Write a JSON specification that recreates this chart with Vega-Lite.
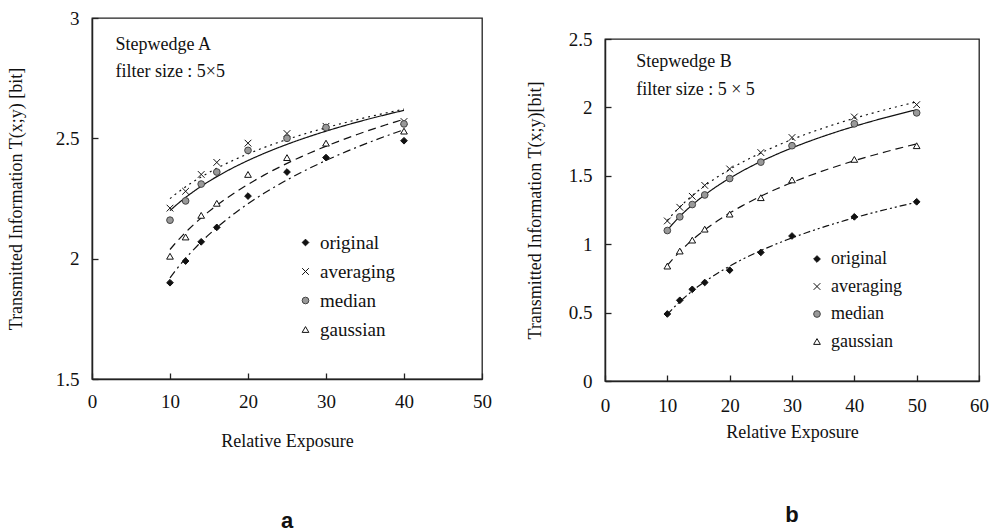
{
  "$schema": "https://vega.github.io/schema/vega-lite/v6.json",
  "background": "white",
  "padding": {"left": 6, "top": 8, "right": 2, "bottom": 0},
  "spacing": 32,
  "resolve": {
    "scale": {"shape": "independent", "fill": "independent", "stroke": "independent", "strokeDash": "independent"},
    "legend": {"shape": "independent", "fill": "independent", "stroke": "independent", "strokeDash": "independent"}
  },
  "config": {
    "font": "Liberation Serif",
    "view": {"stroke": "#222", "strokeWidth": 1.3},
    "axis": {
      "grid": false, "domainColor": "#222", "domainWidth": 1.5, "tickColor": "#222", "tickSize": -6, "tickWidth": 1.3,
      "labelFont": "Liberation Serif", "labelFontSize": 19, "labelColor": "#111", "labelPadding": 19, "labelFlush": false,
      "titleFont": "Liberation Serif", "titleFontSize": 18, "titleFontWeight": "normal", "titleColor": "#111"
    },
    "legend": {
      "labelFont": "Liberation Serif", "labelFontSize": 19, "labelColor": "#111", "symbolSize": 45, "symbolStrokeWidth": 1, "rowPadding": 9, "labelOffset": 5
    },
    "title": {"font": "Liberation Sans", "fontSize": 22, "fontWeight": "bold", "color": "#111", "orient": "bottom", "anchor": "middle"}
  },
  "datasets": {
    "A": [
      {"series": "original", "x": 10, "v": 1.90}, {"series": "original", "x": 12, "v": 1.99}, {"series": "original", "x": 14, "v": 2.07}, {"series": "original", "x": 16, "v": 2.13}, {"series": "original", "x": 20, "v": 2.26}, {"series": "original", "x": 25, "v": 2.36}, {"series": "original", "x": 30, "v": 2.42}, {"series": "original", "x": 40, "v": 2.49},
      {"series": "averaging", "x": 10, "v": 2.21}, {"series": "averaging", "x": 12, "v": 2.28}, {"series": "averaging", "x": 14, "v": 2.35}, {"series": "averaging", "x": 16, "v": 2.40}, {"series": "averaging", "x": 20, "v": 2.48}, {"series": "averaging", "x": 25, "v": 2.52}, {"series": "averaging", "x": 30, "v": 2.55}, {"series": "averaging", "x": 40, "v": 2.57},
      {"series": "median", "x": 10, "v": 2.16}, {"series": "median", "x": 12, "v": 2.24}, {"series": "median", "x": 14, "v": 2.31}, {"series": "median", "x": 16, "v": 2.36}, {"series": "median", "x": 20, "v": 2.45}, {"series": "median", "x": 25, "v": 2.50}, {"series": "median", "x": 30, "v": 2.545}, {"series": "median", "x": 40, "v": 2.56},
      {"series": "gaussian", "x": 10, "v": 2.01}, {"series": "gaussian", "x": 12, "v": 2.09}, {"series": "gaussian", "x": 14, "v": 2.18}, {"series": "gaussian", "x": 16, "v": 2.23}, {"series": "gaussian", "x": 20, "v": 2.35}, {"series": "gaussian", "x": 25, "v": 2.42}, {"series": "gaussian", "x": 30, "v": 2.48}, {"series": "gaussian", "x": 40, "v": 2.53}
    ],
    "B": [
      {"series": "original", "x": 10, "v": 0.49}, {"series": "original", "x": 12, "v": 0.59}, {"series": "original", "x": 14, "v": 0.67}, {"series": "original", "x": 16, "v": 0.72}, {"series": "original", "x": 20, "v": 0.81}, {"series": "original", "x": 25, "v": 0.94}, {"series": "original", "x": 30, "v": 1.06}, {"series": "original", "x": 40, "v": 1.20}, {"series": "original", "x": 50, "v": 1.31},
      {"series": "averaging", "x": 10, "v": 1.17}, {"series": "averaging", "x": 12, "v": 1.27}, {"series": "averaging", "x": 14, "v": 1.35}, {"series": "averaging", "x": 16, "v": 1.43}, {"series": "averaging", "x": 20, "v": 1.55}, {"series": "averaging", "x": 25, "v": 1.67}, {"series": "averaging", "x": 30, "v": 1.78}, {"series": "averaging", "x": 40, "v": 1.93}, {"series": "averaging", "x": 50, "v": 2.02},
      {"series": "median", "x": 10, "v": 1.10}, {"series": "median", "x": 12, "v": 1.20}, {"series": "median", "x": 14, "v": 1.29}, {"series": "median", "x": 16, "v": 1.36}, {"series": "median", "x": 20, "v": 1.48}, {"series": "median", "x": 25, "v": 1.60}, {"series": "median", "x": 30, "v": 1.72}, {"series": "median", "x": 40, "v": 1.88}, {"series": "median", "x": 50, "v": 1.96},
      {"series": "gaussian", "x": 10, "v": 0.84}, {"series": "gaussian", "x": 12, "v": 0.95}, {"series": "gaussian", "x": 14, "v": 1.03}, {"series": "gaussian", "x": 16, "v": 1.11}, {"series": "gaussian", "x": 20, "v": 1.22}, {"series": "gaussian", "x": 25, "v": 1.34}, {"series": "gaussian", "x": 30, "v": 1.47}, {"series": "gaussian", "x": 40, "v": 1.62}, {"series": "gaussian", "x": 50, "v": 1.72}
    ],
    "notesA": [{"x": 3, "v": 2.888, "t": "Stepwedge A"}, {"x": 3, "v": 2.775, "t": "filter size : 5×5"}],
    "notesB": [{"x": 5, "v": 2.33, "t": "Stepwedge B"}, {"x": 5, "v": 2.13, "t": "filter size : 5 × 5"}],
    "blank": [{"t": ""}]
  },
  "hconcat": [
    {
      "width": 390, "height": 361,
      "title": {"text": "a", "offset": 61},
      "layer": [
        {
          "data": {"name": "A"},
          "transform": [{"regression": "v", "on": "x", "groupby": ["series"], "method": "log", "extent": [10, 40]}],
          "mark": {"type": "line", "color": "#111", "strokeWidth": 1.2},
          "encoding": {
            "x": {"field": "x", "type": "quantitative", "scale": {"domain": [0, 50], "nice": false}, "axis": {"values": [0, 10, 20, 30, 40, 50], "title": "Relative Exposure", "titlePadding": 21}},
            "y": {"field": "v", "type": "quantitative", "scale": {"domain": [1.5, 3], "nice": false, "zero": false}, "axis": {"values": [1.5, 2, 2.5, 3], "format": "~f", "title": "Transmitted Information T(x;y) [bit]", "titlePadding": 30}},
            "strokeDash": {"field": "series", "type": "nominal", "scale": {"domain": ["averaging", "gaussian", "median", "original"], "range": [[2, 4], [8, 5], [1, 0], [8, 4, 2, 4]]}, "legend": null}
          }
        },
        {
          "data": {"name": "A"},
          "mark": {"type": "point", "filled": true, "opacity": 1, "strokeWidth": 1, "size": 45},
          "encoding": {
            "x": {"field": "x", "type": "quantitative", "scale": {"domain": [0, 50], "nice": false}},
            "y": {"field": "v", "type": "quantitative", "scale": {"domain": [1.5, 3], "nice": false, "zero": false}},
            "shape": {"field": "series", "type": "nominal", "scale": {"domain": ["original", "averaging", "median", "gaussian"], "range": ["diamond", "M-1,-1L1,1M1,-1L-1,1", "circle", "triangle-up"]}, "legend": {"title": null, "orient": "none", "legendX": 204, "legendY": 215}},
            "fill": {"field": "series", "type": "nominal", "scale": {"domain": ["original", "averaging", "median", "gaussian"], "range": ["#111", "transparent", "#999", "white"]}, "legend": {"title": null, "orient": "none", "legendX": 204, "legendY": 215}},
            "stroke": {"field": "series", "type": "nominal", "scale": {"domain": ["original", "averaging", "median", "gaussian"], "range": ["#111", "#111", "#444", "#111"]}, "legend": {"title": null, "orient": "none", "legendX": 204, "legendY": 215}}
          }
        },
        {
          "data": {"name": "notesA"},
          "mark": {"type": "text", "align": "left", "baseline": "middle", "fontSize": 18, "font": "Liberation Serif", "color": "#111"},
          "encoding": {
            "x": {"field": "x", "type": "quantitative", "scale": {"domain": [0, 50], "nice": false}},
            "y": {"field": "v", "type": "quantitative", "scale": {"domain": [1.5, 3], "nice": false, "zero": false}},
            "text": {"field": "t"}
          }
        }
      ]
    },
    {
      "spacing": 5,
      "vconcat": [
        {
          "width": 1, "height": 1,
          "view": {"stroke": null},
          "data": {"name": "blank"},
          "mark": {"type": "text"},
          "encoding": {"text": {"field": "t"}}
        },
        {
          "width": 374, "height": 342,
          "title": {"text": "b", "offset": 64},
          "layer": [
            {
              "data": {"name": "B"},
              "transform": [{"regression": "v", "on": "x", "groupby": ["series"], "method": "log", "extent": [10, 50]}],
              "mark": {"type": "line", "color": "#111", "strokeWidth": 1.2},
              "encoding": {
                "x": {"field": "x", "type": "quantitative", "scale": {"domain": [0, 60], "nice": false}, "axis": {"values": [0, 10, 20, 30, 40, 50, 60], "title": "Relative Exposure", "titlePadding": 8, "labelPadding": 21}},
                "y": {"field": "v", "type": "quantitative", "scale": {"domain": [0, 2.5], "nice": false}, "axis": {"values": [0, 0.5, 1, 1.5, 2, 2.5], "format": "~f", "title": "Transmitted Information T(x;y)[bit]", "titlePadding": 24}},
                "strokeDash": {"field": "series", "type": "nominal", "scale": {"domain": ["averaging", "gaussian", "median", "original"], "range": [[2, 4], [8, 5], [1, 0], [7, 3, 2, 3, 2, 3]]}, "legend": null}
              }
            },
            {
              "data": {"name": "B"},
              "mark": {"type": "point", "filled": true, "opacity": 1, "strokeWidth": 1, "size": 45},
              "encoding": {
                "x": {"field": "x", "type": "quantitative", "scale": {"domain": [0, 60], "nice": false}},
                "y": {"field": "v", "type": "quantitative", "scale": {"domain": [0, 2.5], "nice": false}},
                "shape": {"field": "series", "type": "nominal", "scale": {"domain": ["original", "averaging", "median", "gaussian"], "range": ["diamond", "M-1,-1L1,1M1,-1L-1,1", "circle", "triangle-up"]}, "legend": {"title": null, "orient": "none", "legendX": 203, "legendY": 232, "labelFontSize": 18, "rowPadding": 9.5}},
                "fill": {"field": "series", "type": "nominal", "scale": {"domain": ["original", "averaging", "median", "gaussian"], "range": ["#111", "transparent", "#999", "white"]}, "legend": {"title": null, "orient": "none", "legendX": 203, "legendY": 232, "labelFontSize": 18, "rowPadding": 9.5}},
                "stroke": {"field": "series", "type": "nominal", "scale": {"domain": ["original", "averaging", "median", "gaussian"], "range": ["#111", "#111", "#444", "#111"]}, "legend": {"title": null, "orient": "none", "legendX": 203, "legendY": 232, "labelFontSize": 18, "rowPadding": 9.5}}
              }
            },
            {
              "data": {"name": "notesB"},
              "mark": {"type": "text", "align": "left", "baseline": "middle", "fontSize": 18, "font": "Liberation Serif", "color": "#111"},
              "encoding": {
                "x": {"field": "x", "type": "quantitative", "scale": {"domain": [0, 60], "nice": false}},
                "y": {"field": "v", "type": "quantitative", "scale": {"domain": [0, 2.5], "nice": false}},
                "text": {"field": "t"}
              }
            }
          ]
        }
      ]
    }
  ]
}
